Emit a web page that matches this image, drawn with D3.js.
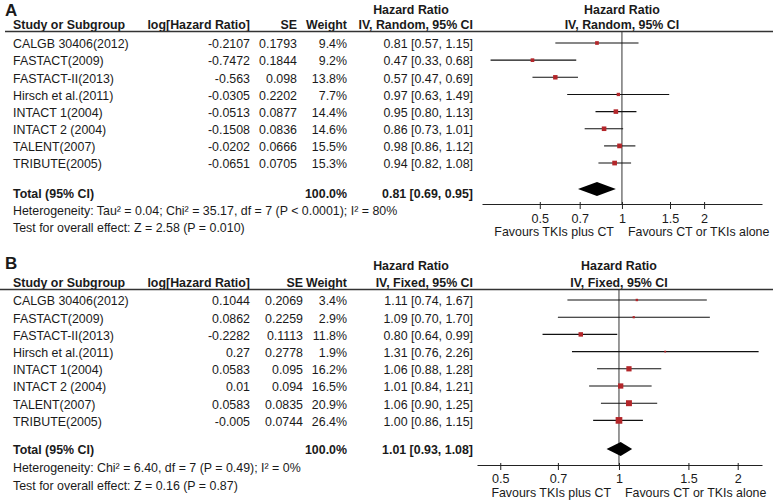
<!DOCTYPE html>
<html>
<head>
<meta charset="utf-8">
<script src="https://cdn.jsdelivr.net/npm/d3@7"></script>
<style>
  html, body { margin: 0; padding: 0; background: #fff; }
  svg { display: block; }
  text { font-family: "Liberation Sans", Arial, sans-serif; fill: #1a1a1a; }
</style>
</head>
<body>
<svg id="chart" width="777" height="504"></svg>
<script>
// ---------- DATA ----------
const studies = ["CALGB 30406(2012)", "FASTACT(2009)", "FASTACT-II(2013)", "Hirsch et al.(2011)",
                 "INTACT 1(2004)", "INTACT 2 (2004)", "TALENT(2007)", "TRIBUTE(2005)"];

// Panel A (random effects)
const logHR_A  = [-0.2107, -0.7472, -0.563, -0.0305, -0.0513, -0.1508, -0.0202, -0.0651];
const se_A     = [0.1793, 0.1844, 0.098, 0.2202, 0.0877, 0.0836, 0.0666, 0.0705];
const weight_A = [9.4, 9.2, 13.8, 7.7, 14.4, 14.6, 15.5, 15.3];
const hr_A     = [0.81, 0.47, 0.57, 0.97, 0.95, 0.86, 0.98, 0.94];
const lo_A     = [0.57, 0.33, 0.47, 0.63, 0.80, 0.73, 0.86, 0.82];
const hi_A     = [1.15, 0.68, 0.69, 1.49, 1.13, 1.01, 1.12, 1.08];
const total_A  = [0.81, 0.69, 0.95];
const het_A    = "Heterogeneity: Tau² = 0.04; Chi² = 35.17, df = 7 (P < 0.0001); I² = 80%";
const test_A   = "Test for overall effect: Z = 2.58 (P = 0.010)";

// Panel B (fixed effects)
const logHR_B  = [0.1044, 0.0862, -0.2282, 0.27, 0.0583, 0.01, 0.0583, -0.005];
const se_B     = [0.2069, 0.2259, 0.1113, 0.2778, 0.095, 0.094, 0.0835, 0.0744];
const weight_B = [3.4, 2.9, 11.8, 1.9, 16.2, 16.5, 20.9, 26.4];
const hr_B     = [1.11, 1.09, 0.80, 1.31, 1.06, 1.01, 1.06, 1.00];
const lo_B     = [0.74, 0.70, 0.64, 0.76, 0.88, 0.84, 0.90, 0.86];
const hi_B     = [1.67, 1.70, 0.99, 2.26, 1.28, 1.21, 1.25, 1.15];
const total_B  = [1.01, 0.93, 1.08];
const het_B    = "Heterogeneity: Chi² = 6.40, df = 7 (P = 0.49); I² = 0%";
const test_B   = "Test for overall effect: Z = 0.16 (P = 0.87)";

const tickValues = [0.5, 0.7, 1, 1.5, 2];
const tickLabels = ["0.5", "0.7", "1", "1.5", "2"];
const favourLeft  = "Favours TKIs plus CT";
const favourRight = "Favours CT or TKIs alone";

// ---------- DRAWING ----------
const svg = d3.select("#chart");
const FS = 12.4;
const RED = "#b3262a";

function drawPanel(p) {
  const g = svg.append("g");
  const n = p.studies.length;
  const rowY = i => p.row0 + p.rowStep * i;

  // panel letter
  g.append("text").attr("x", 5).attr("y", p.labelY).attr("dy", "0.35em")
    .attr("font-size", 17).attr("font-weight", "bold").text(p.label);

  // headers
  const hdr = (x, y, t, anchor) => g.append("text").attr("x", x).attr("y", y).attr("dy", "0.35em")
    .attr("font-size", FS).attr("font-weight", "bold").attr("text-anchor", anchor).attr("fill", "#333").text(t);
  hdr(p.colHR - 62, p.h1Y, "Hazard Ratio", "middle");
  hdr(13, p.h2Y, "Study or Subgroup", "start");
  hdr(p.colLog, p.h2Y, "log[Hazard Ratio]", "end");
  hdr(p.colSE, p.h2Y, "SE", "end");
  hdr(p.colW, p.h2Y, "Weight", "end");
  hdr(p.colHR, p.h2Y, p.method, "end");

  const x = d3.scaleLog().domain(p.domain).range(p.range);
  const x1 = x(1);
  hdr(x1, p.h1Y, "Hazard Ratio", "middle");
  hdr(x1, p.h2Y, p.method, "middle");

  // header rule
  g.append("line").attr("x1", p.ruleX0).attr("x2", 773).attr("y1", p.ruleY).attr("y2", p.ruleY)
    .attr("stroke", "#333").attr("stroke-width", 1.3);

  // rows
  const cell = (xx, y, t, anchor, bold) => g.append("text").attr("x", xx).attr("y", y).attr("dy", "0.35em")
    .attr("font-size", FS).attr("text-anchor", anchor).attr("font-weight", bold ? "bold" : "normal").text(t);
  for (let i = 0; i < n; i++) {
    const y = rowY(i);
    cell(13, y, p.studies[i], "start");
    cell(p.colLog, y, String(p.logHR[i]), "end");
    cell(p.colSE, y, String(p.se[i]), "end");
    cell(p.colW, y, p.weight[i].toFixed(1) + "%", "end");
    cell(p.colHR, y, `${p.hr[i].toFixed(2)} [${p.lo[i].toFixed(2)}, ${p.hi[i].toFixed(2)}]`, "end");
  }
  cell(13, p.totalY, "Total (95% CI)", "start", true);
  cell(p.colW, p.totalY, "100.0%", "end", true);
  cell(p.colHR, p.totalY, `${p.total[0].toFixed(2)} [${p.total[1].toFixed(2)}, ${p.total[2].toFixed(2)}]`, "end", true);
  cell(13, p.hetY, p.het, "start");
  cell(13, p.testY, p.test, "start");

  // null line
  g.append("line").attr("x1", x1).attr("x2", x1).attr("y1", p.ruleY).attr("y2", p.axisY)
    .attr("stroke", "#333").attr("stroke-width", 1);

  // CI lines and squares
  const fg = g.append("g");
  fg.selectAll("line.ci").data(d3.range(n)).join("line").attr("class", "ci")
    .attr("x1", i => x(p.lo[i])).attr("x2", i => x(p.hi[i]))
    .attr("y1", i => rowY(i) - 1).attr("y2", i => rowY(i) - 1)
    .attr("stroke", "#111").attr("stroke-width", 1.1);
  fg.selectAll("rect.sq").data(d3.range(n)).join("rect").attr("class", "sq")
    .attr("x", i => x(p.hr[i]) - p.sqK * Math.sqrt(p.weight[i]) / 2)
    .attr("y", i => rowY(i) - 1 - p.sqK * Math.sqrt(p.weight[i]) / 2)
    .attr("width", i => p.sqK * Math.sqrt(p.weight[i]))
    .attr("height", i => p.sqK * Math.sqrt(p.weight[i]))
    .attr("fill", RED);

  // diamond
  const dy = p.diamondY, dh = 7;
  g.append("path")
    .attr("d", `M${x(p.total[1])},${dy} L${x(p.total[0])},${dy - dh} L${x(p.total[2])},${dy} L${x(p.total[0])},${dy + dh} Z`)
    .attr("fill", "#000");

  // axis
  const axis = d3.axisBottom(x).tickValues(tickValues)
    .tickFormat((d, i) => tickLabels[i]).tickSizeInner(5).tickSizeOuter(0).tickPadding(4);
  const ag = g.append("g").attr("transform", `translate(0,${p.axisY})`).call(axis);
  ag.select(".domain").attr("stroke", "#222").attr("stroke-width", 1.2);
  ag.selectAll(".tick line").attr("stroke", "#222").attr("y1", -2);
  ag.selectAll(".tick text").attr("font-size", 12.6).attr("fill", "#1a1a1a")
    .attr("font-family", "Liberation Sans, Arial, sans-serif").attr("y", p.tickLabY - p.axisY).attr("dy", "0.35em");

  g.append("text").attr("x", x1 - 8).attr("y", p.favY).attr("dy", "0.35em").attr("font-size", FS)
    .attr("text-anchor", "end").attr("fill", "#333").text(favourLeft);
  g.append("text").attr("x", x1 + 6).attr("y", p.favY).attr("dy", "0.35em").attr("font-size", FS)
    .attr("text-anchor", "start").attr("fill", "#333").text(favourRight);
}

drawPanel({
  label: "A", labelY: 10, method: "IV, Random, 95% CI",
  studies, logHR: logHR_A, se: se_A, weight: weight_A, hr: hr_A, lo: lo_A, hi: hi_A, total: total_A,
  het: het_A, test: test_A,
  h1Y: 10, h2Y: 25, ruleY: 31.5, ruleX0: 5, row0: 44, rowStep: 17.15,
  totalY: 194, hetY: 211, testY: 228, diamondY: 189,
  colLog: 250, colSE: 297, colW: 347, colHR: 473,
  domain: [0.307, 3.26], range: [482, 762], axisY: 204, tickLabY: 219, favY: 232, sqK: 1.2
});

drawPanel({
  label: "B", labelY: 263, method: "IV, Fixed, 95% CI",
  studies, logHR: logHR_B, se: se_B, weight: weight_B, hr: hr_B, lo: lo_B, hi: hi_B, total: total_B,
  het: het_B, test: test_B,
  h1Y: 266, h2Y: 283, ruleY: 289.5, ruleX0: 0, row0: 301, rowStep: 17.2,
  totalY: 450, hetY: 468, testY: 486, diamondY: 449,
  colLog: 250, colSE: 303, colW: 347, colHR: 473,
  domain: [0.4365, 2.305], range: [477, 762], axisY: 465, tickLabY: 479, favY: 493, sqK: 1.3
});
</script>
</body>
</html>
